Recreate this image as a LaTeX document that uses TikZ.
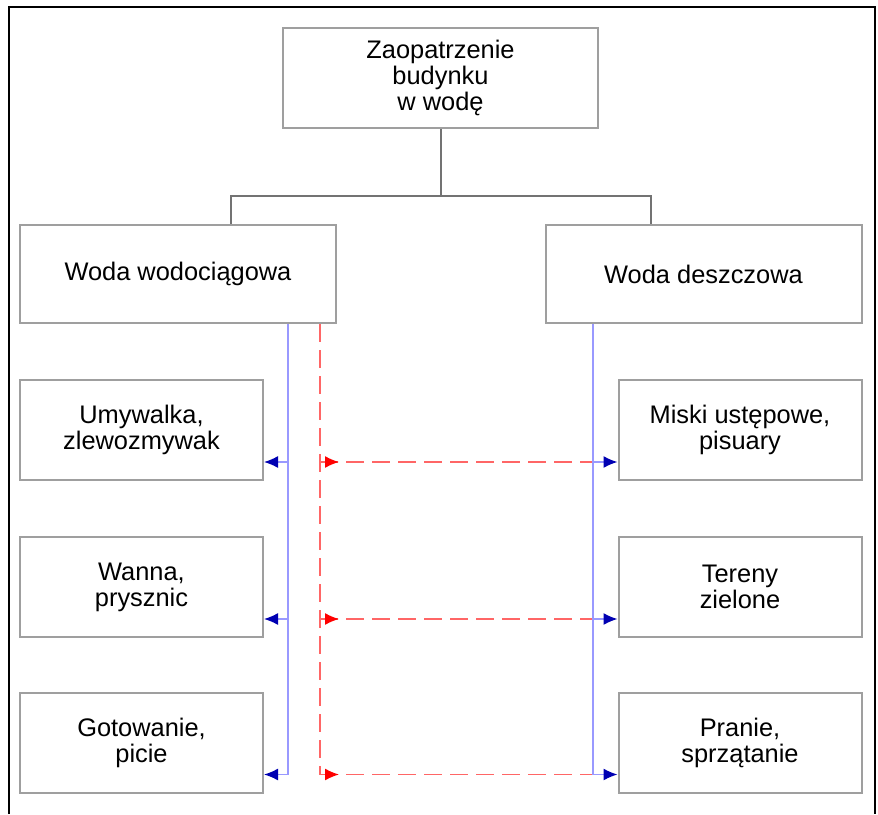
\documentclass[tikz,border=0pt]{standalone}
\usepackage{fontspec}
\setmainfont{Liberation Sans}
\usetikzlibrary{arrows,arrows.meta,calc}

\begin{document}
\begin{tikzpicture}[>=latex,x=0.5pt,y=-0.5pt]
\tikzset{
	box/.style={draw=gray!75,line width=1pt,align=center,inner sep=0pt,
		font=\fontsize{12.7}{13}\selectfont},
	wide/.style={box,minimum width=158pt,minimum height=49pt},
	small/.style={box,minimum width=121.5pt,minimum height=50pt},
	tree/.style={draw=black!55,line width=1pt},
	pipe/.style={draw=blue!40,line width=0.7pt},
	pipeto/.style={pipe,-{Latex[length=7pt,width=6pt,color=blue!70!black]}},
	rain/.style={draw=red!60,line width=0.7pt,dash pattern=on 9pt off 4pt},
	rainto/.style={draw=red!60,line width=0.7pt,-{Latex[length=7pt,width=6pt,color=red]}}
}
\useasboundingbox (0,0) rectangle (878,814);
\draw[line width=1pt] (9,814) -- (9,7) -- (875,7) -- (875,814);

% tree
\node(zaop)[box,minimum width=157.5pt,minimum height=50pt] at (440.5,78)
	{Zaopatrzenie\\budynku\\w wodę};
\node(wodo)[wide] at (178,274) {Woda wodociągowa};
\node(deszcz)[wide] at (703.5,274) {Woda deszczowa};
\coordinate(rozg) at ($(zaop.south)+(0,67)$);
\coordinate(wodo-in) at ($(wodo.north)+(53,0)$);
\coordinate(deszcz-in) at ($(deszcz.north)+(-52.5,0)$);
\draw[tree] (zaop.south) -- (rozg);
\draw[tree] (wodo-in) |- (rozg) -| (deszcz-in);

% receivers
\node(umyw)[small] at (141.5,430) {Umywalka,\\zlewozmywak};
\node(wanna)[small] at (141.5,587) {Wanna,\\prysznic};
\node(gotow)[small] at (141.5,742.5) {Gotowanie,\\picie};
\node(miski)[small] at (740,430) {Miski ustępowe,\\pisuary};
\node(tereny)[small] at (740,587) {Tereny\\zielone};
\node(pranie)[small] at (740,742.5) {Pranie,\\sprzątanie};

% supply lines
\coordinate(lb) at ($(wodo.south)+(110,0)$);
\coordinate(lr) at ($(wodo.south)+(142,0)$);
\coordinate(rb) at ($(deszcz.south)+(-110.5,0)$);
\foreach \n/\m in {umyw/miski,wanna/tereny,gotow/pranie}{
	\coordinate(\n-in) at ($(\n.south east)+(0,-19)$);
	\coordinate(\m-in) at ($(\m.south west)+(0,-19)$);
	\draw[pipeto] (lb |- \n-in) -- (\n-in);
	\draw[rain] (lr |- \n-in) -- (rb |- \m-in);
	\draw[rainto] (lr |- \n-in) -- ++(19,0);
	\draw[pipeto] (rb |- \m-in) -- (\m-in);
}
\draw[pipe] (lb) -- (lb |- gotow-in);
\draw[rain] (lr) -- (lr |- gotow-in);
\draw[pipe] (rb) -- (rb |- pranie-in);
\end{tikzpicture}
\end{document}
